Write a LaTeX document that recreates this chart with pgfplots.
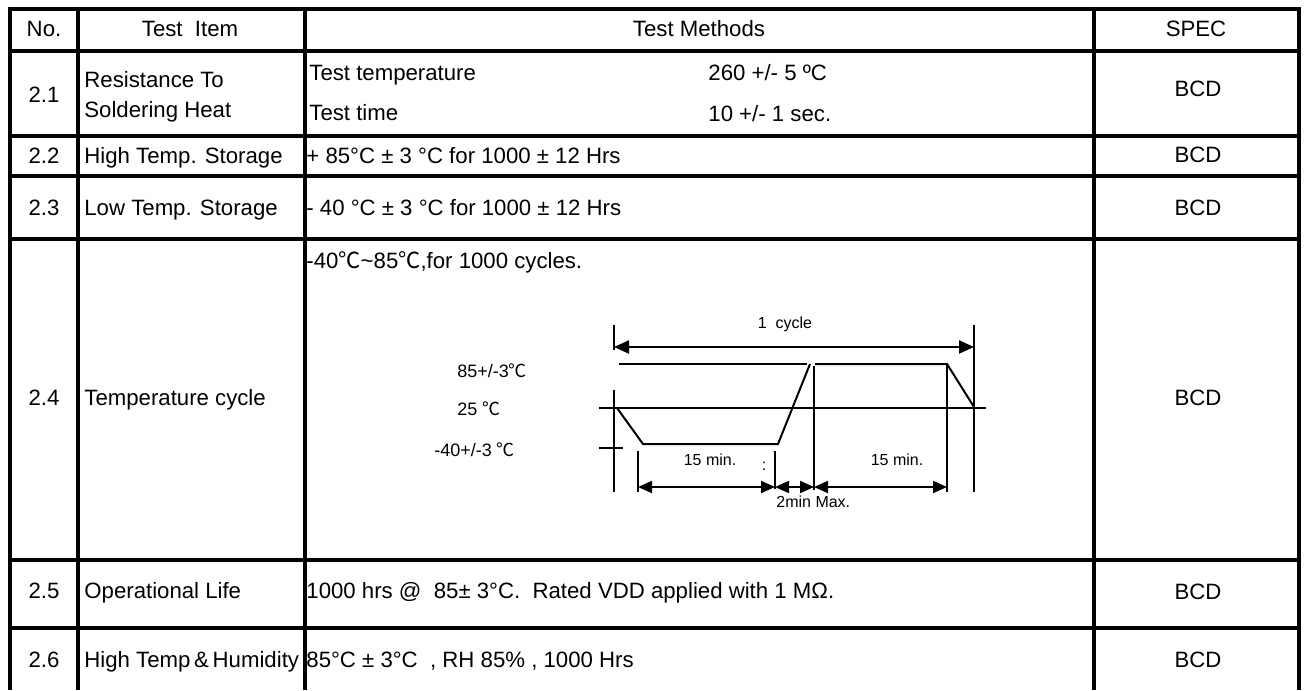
\documentclass[border=0pt]{standalone}
\usepackage{pgfplots}
\pgfplotsset{compat=1.18}
\usepackage{fontspec}
\setmainfont{Liberation Sans}
\newfontfamily\cjk{Noto Sans CJK SC}
\usetikzlibrary{arrows.meta}
\newcommand{\fs}{\fontsize{11.1pt}{13pt}\selectfont}
\newcommand{\fd}{\fontsize{9pt}{11pt}\selectfont}
\newcommand{\fm}{\fontsize{8pt}{10pt}\selectfont}
\newcommand{\dc}{{\cjk ℃}}
\tikzset{
  tbl/.style={line width=2pt},
  dg/.style={line width=1pt},
  dbl/.style={line width=1pt, {Triangle[length=7.5pt,width=6.5pt]}-{Triangle[length=7.5pt,width=6.5pt]}},
  dbs/.style={line width=1pt, {Triangle[length=7pt,width=6pt]}-{Triangle[length=7pt,width=6pt]}},
  tx/.style={font=\fs, inner sep=0pt},
}
\begin{document}
\begin{tikzpicture}
\begin{axis}[width=653.5pt, height=345pt, scale only axis,
  xmin=0, xmax=1307, ymin=0, ymax=690, y dir=reverse,
  axis lines=none, clip=false,
  every axis plot/.append style={black, mark=none},
  ]
% ---- table grid ----
\addplot[tbl] coordinates {(9.7,690) (9.7,9.5) (1299,9.5) (1299,690)};
\addplot[tbl] coordinates {(77.5,9.5) (77.5,690)};
\addplot[tbl] coordinates {(304.5,9.5) (304.5,690)};
\addplot[tbl] coordinates {(1094,9.5) (1094,690)};
\addplot[tbl] coordinates {(9.7,51.5) (1299,51.5)};
\addplot[tbl] coordinates {(9.7,136) (1299,136)};
\addplot[tbl] coordinates {(9.7,176) (1299,176)};
\addplot[tbl] coordinates {(9.7,238.5) (1299,238.5)};
\addplot[tbl] coordinates {(9.7,560) (1299,560)};
\addplot[tbl] coordinates {(9.7,627.5) (1299,627.5)};
% ---- header ----
\node[tx, anchor=base] at (axis cs:44,37) {No.};
\node[tx, anchor=base] at (axis cs:190,37) {Test\ \ Item};
\node[tx, anchor=base] at (axis cs:699,37) {Test Methods};
\node[tx, anchor=base] at (axis cs:1196,37) {SPEC};
% ---- row 2.1 ----
\node[tx, anchor=base] at (axis cs:44,102) {2.1};
\node[tx, anchor=base west] at (axis cs:84,88) {Resistance To};
\node[tx, anchor=base west] at (axis cs:84,117) {Soldering Heat};
\node[tx, anchor=base west] at (axis cs:309,81) {Test temperature};
\node[tx, anchor=base west] at (axis cs:309,120) {Test time};
\node[tx, anchor=base west] at (axis cs:708,81) {260 +/- 5 ºC};
\node[tx, anchor=base west] at (axis cs:708,121) {10 +/- 1 sec.};
\node[tx, anchor=base] at (axis cs:1198,97) {BCD};
% ---- row 2.2 ----
\node[tx, anchor=base] at (axis cs:44,163) {2.2};
\node[tx, anchor=base west] at (axis cs:84,163) {High Temp. Storage};
\node[tx, anchor=base west] at (axis cs:306,163) {+ 85°C ± 3 °C for 1000 ± 12 Hrs};
\node[tx, anchor=base] at (axis cs:1198,162) {BCD};
% ---- row 2.3 ----
\node[tx, anchor=base] at (axis cs:44,215) {2.3};
\node[tx, anchor=base west] at (axis cs:84,215) {Low Temp. Storage};
\node[tx, anchor=base west] at (axis cs:306,215) {- 40 °C ± 3 °C for 1000 ± 12 Hrs};
\node[tx, anchor=base] at (axis cs:1198,215) {BCD};
% ---- row 2.4 ----
\node[tx, anchor=base west] at (axis cs:306,268) {-40\dc\textasciitilde85\dc,for 1000 cycles.};
\node[tx, anchor=base] at (axis cs:44,405) {2.4};
\node[tx, anchor=base west] at (axis cs:84,405) {Temperature cycle};
\node[tx, anchor=base] at (axis cs:1198,405) {BCD};
% diagram labels
\node[inner sep=0pt, font=\fd, anchor=base west] at (axis cs:457,377) {85+/-3\dc};
\node[inner sep=0pt, font=\fd, anchor=base west] at (axis cs:457,415) {25 \dc};
\node[inner sep=0pt, font=\fd, anchor=base west] at (axis cs:434,456) {-40+/-3 \dc};
\node[inner sep=0pt, font=\fm, anchor=base] at (axis cs:785,328) {1\ \ cycle};
\node[inner sep=0pt, font=\fm, anchor=base] at (axis cs:710,465) {15 min.};
\node[inner sep=0pt, font=\fm, anchor=base] at (axis cs:897,465) {15 min.};
\node[inner sep=0pt, font=\fm, anchor=base west] at (axis cs:776,507) {2min Max.};
\node[inner sep=0pt, font=\fm, anchor=center] at (axis cs:764,466) {:};
% diagram lines
\addplot[dg] coordinates {(614,325) (614,350)};
\addplot[dbl] coordinates {(614,347) (974,347)};
\addplot[dg] coordinates {(974,325) (974,492)};
\addplot[dg] coordinates {(619,364) (807,364)};
\addplot[dg] coordinates {(815,364) (947,364) (974,407)};
\addplot[dg] coordinates {(599,408) (986,408)};
\addplot[dg] coordinates {(617,408) (643,444) (778,444) (810,364)};
\addplot[dg] coordinates {(614,390) (614,492)};
\addplot[dg] coordinates {(599,447.5) (623,447.5)};
\addplot[dg] coordinates {(638,451) (638,492)};
\addplot[dg] coordinates {(775,451) (775,489)};
\addplot[dg] coordinates {(814,366) (814,490)};
\addplot[dg] coordinates {(947,364) (947,492)};
\addplot[dbs] coordinates {(638,487) (775,487)};
\addplot[dbs] coordinates {(775,487) (814,487)};
\addplot[dbs] coordinates {(814,487) (947,487)};
% ---- row 2.5 ----
\node[tx, anchor=base] at (axis cs:44,598) {2.5};
\node[tx, anchor=base west] at (axis cs:84,598) {Operational Life};
\node[tx, anchor=base west] at (axis cs:306,598) {1000 hrs @\ \ 85± 3°C.\ \ Rated VDD applied with 1 MΩ.};
\node[tx, anchor=base] at (axis cs:1198,599) {BCD};
% ---- row 2.6 ----
\node[tx, anchor=base] at (axis cs:44,667) {2.6};
\node[tx, anchor=base west] at (axis cs:84,667) {High Temp\,\&\,Humidity};
\node[tx, anchor=base west] at (axis cs:306,667) {85°C ± 3°C\ \ , RH 85\% , 1000 Hrs};
\node[tx, anchor=base] at (axis cs:1198,667) {BCD};
\end{axis}
\pgfresetboundingbox
\useasboundingbox (current axis.south west) rectangle (current axis.north east);
\end{tikzpicture}
\end{document}
